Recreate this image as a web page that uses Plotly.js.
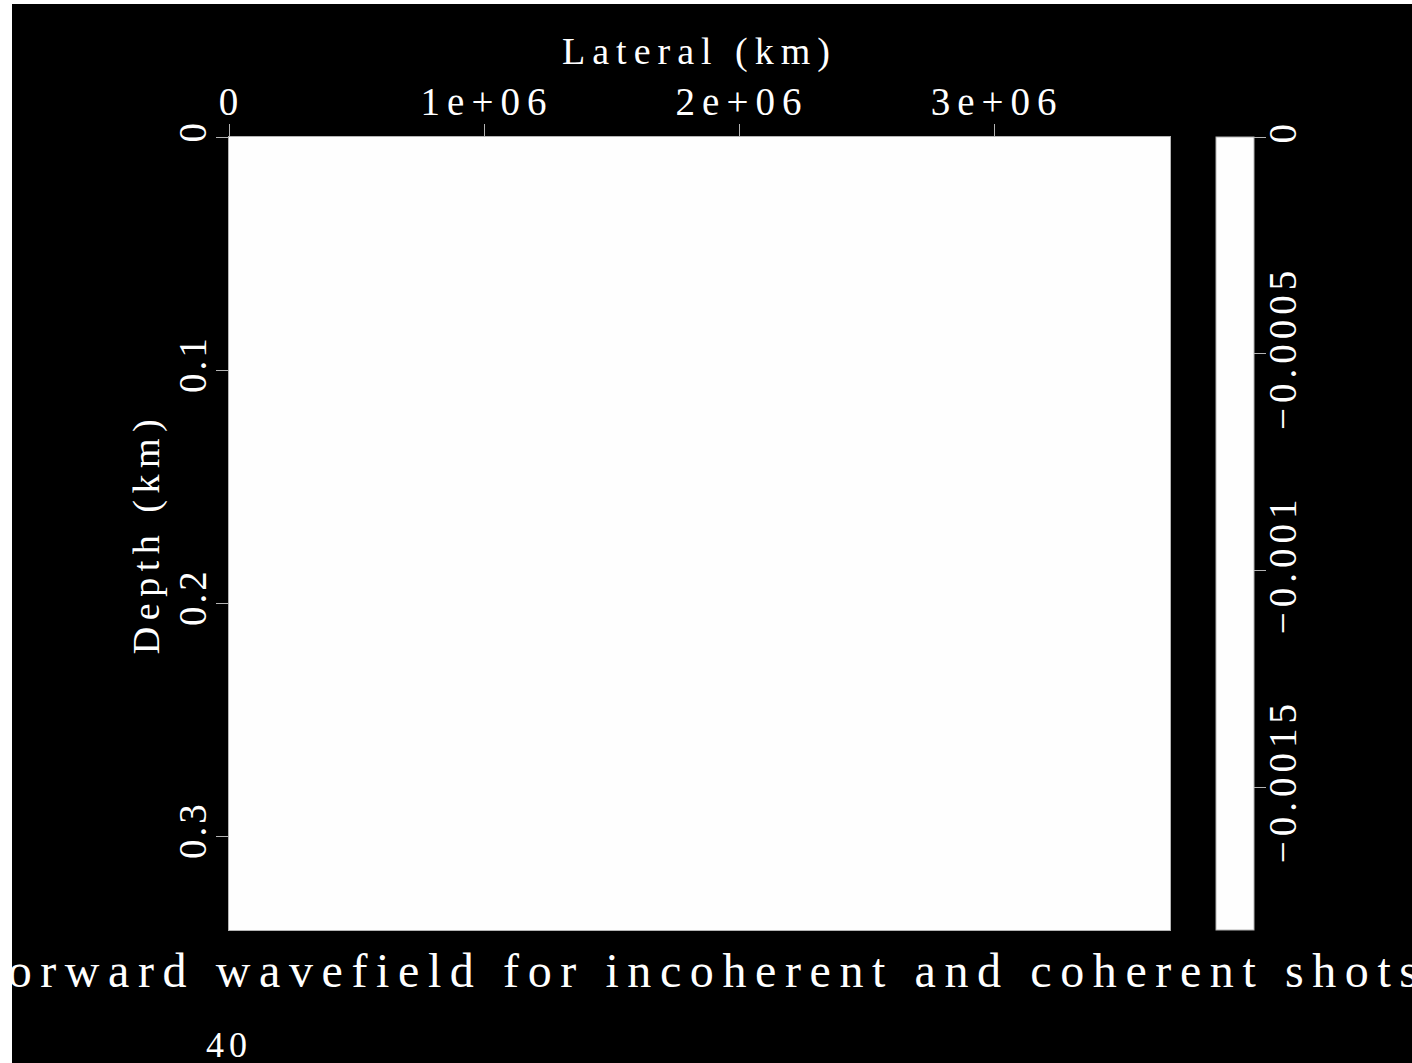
<!DOCTYPE html>
<html>
<head>
<meta charset="utf-8">
<script src="https://cdn.plot.ly/plotly-3.0.1.min.js"></script>
<style>
  html, body { margin: 0; padding: 0; background: #ffffff; width: 1412px; height: 1063px; overflow: hidden; }
  #chart { position: absolute; left: 12px; top: 4px; width: 1400px; height: 1059px; }
  #chart text { letter-spacing: 5px; }
  #chart .xtick text { letter-spacing: 7px; }
  #chart .ytick text { letter-spacing: 3px; }
  #chart .xtitle { letter-spacing: 7px; }
  #chart .ytitle { letter-spacing: 6.5px; }
  #chart .gtitle { letter-spacing: 8.6px; }
</style>
</head>
<body>
<div id="chart"></div>
<script>
// Data (all-zero wavefield snapshot)
const lateralEdges = [0, 3690000];     // lateral extent (plotted in axis units)
const depthEdges = [0, 0.3403];        // depth extent (km)
const wavefield = [[0]];               // amplitude values (all zero)
const ampMin = -0.00183;               // colorbar minimum
const ampMax = 0;                      // colorbar maximum
const xTickVals = [0, 1000000, 2000000, 3000000];
const xTickText = ['0', '1e+06', '2e+06', '3e+06'];
const yTickVals = [0, 0.1, 0.2, 0.3];
const yTickText = ['0', '0.1', '0.2', '0.3'];
const cbTickVals = [0, -0.0005, -0.001, -0.0015];
const cbTickText = ['0', '\u22120.0005', '\u22120.001', '\u22120.0015'];
const chartTitle = 'Forward wavefield for incoherent and coherent shots';
const frameLabel = '40';

const FONT = 'Liberation Serif, Times New Roman, serif';
const LINE = '#b4b4b4';

const trace = {
  type: 'heatmap',
  x: lateralEdges,
  y: depthEdges,
  z: wavefield,
  zmin: ampMin,
  zmax: ampMax,
  colorscale: [[0, '#fefefe'], [1, '#fefefe']],
  hoverinfo: 'skip',
  colorbar: {
    thickness: 38,
    thicknessmode: 'pixels',
    len: 793,
    lenmode: 'pixels',
    x: 1.0489,
    xanchor: 'left',
    y: 1,
    yanchor: 'top',
    xpad: 0,
    ypad: 0,
    outlinecolor: LINE,
    outlinewidth: 1,
    bordercolor: 'rgba(0,0,0,0)',
    borderwidth: 0,
    tickmode: 'array',
    tickvals: cbTickVals,
    ticktext: cbTickText,
    ticks: 'outside',
    ticklen: 12,
    tickwidth: 1,
    tickcolor: LINE,
    tickangle: -90,
    tickfont: { family: FONT, size: 39, color: '#ffffff' }
  }
};

const layout = {
  width: 1400,
  height: 1059,
  paper_bgcolor: '#000000',
  plot_bgcolor: '#000000',
  margin: { l: 217, r: 242, t: 133, b: 133, pad: 0 },
  showlegend: false,
  title: {
    text: chartTitle,
    font: { family: FONT, size: 48, color: '#ffffff' },
    xref: 'paper', x: 0.5, xanchor: 'center',
    yref: 'container', y: 0.0875, yanchor: 'middle'
  },
  xaxis: {
    side: 'top',
    range: [lateralEdges[0], lateralEdges[1]],
    showgrid: false, zeroline: false,
    showline: true, linecolor: LINE, linewidth: 1, mirror: true,
    ticks: 'outside', ticklen: 12, tickwidth: 1, tickcolor: LINE,
    tickmode: 'array', tickvals: xTickVals, ticktext: xTickText,
    tickfont: { family: FONT, size: 39, color: '#ffffff' },
    ticklabelstandoff: -7,
    title: { text: 'Lateral (km)', font: { family: FONT, size: 38, color: '#ffffff' }, standoff: 4 }
  },
  yaxis: {
    range: [depthEdges[1], depthEdges[0]],
    showgrid: false, zeroline: false,
    showline: true, linecolor: LINE, linewidth: 1, mirror: true,
    ticks: 'outside', ticklen: 12, tickwidth: 1, tickcolor: LINE,
    tickmode: 'array', tickvals: yTickVals, ticktext: yTickText,
    tickangle: -90,
    tickfont: { family: FONT, size: 39, color: '#ffffff' },
    ticklabelstandoff: -6,
    title: { text: 'Depth (km)', font: { family: FONT, size: 38, color: '#ffffff' }, standoff: 0 }
  },
  annotations: [{
    text: frameLabel,
    xref: 'paper', x: 0, xanchor: 'center',
    yref: 'paper', y: -0.1455, yanchor: 'middle',
    showarrow: false,
    font: { family: FONT, size: 36, color: '#ffffff' }
  }]
};

function nudge(selector, dx, dy, allowed) {
  document.querySelectorAll(selector).forEach(function (t) {
    if (!allowed || allowed.indexOf(t.textContent) !== -1) {
      const tr = t.getAttribute('transform') || '';
      t.setAttribute('transform', 'translate(' + dx + ',' + dy + ') ' + tr);
    }
  });
}

Plotly.newPlot('chart', [trace], layout, { staticPlot: true, displayModeBar: false }).then(function () {
  // rotated colorbar tick labels sit closer to their ticks
  nudge('#chart .colorbar text', -17, 0, cbTickText);
  // compensate trailing letter-spacing so labels centre on their ticks
  nudge('#chart .xtick text', 3, 0, xTickText);
});
</script>
</body>
</html>
